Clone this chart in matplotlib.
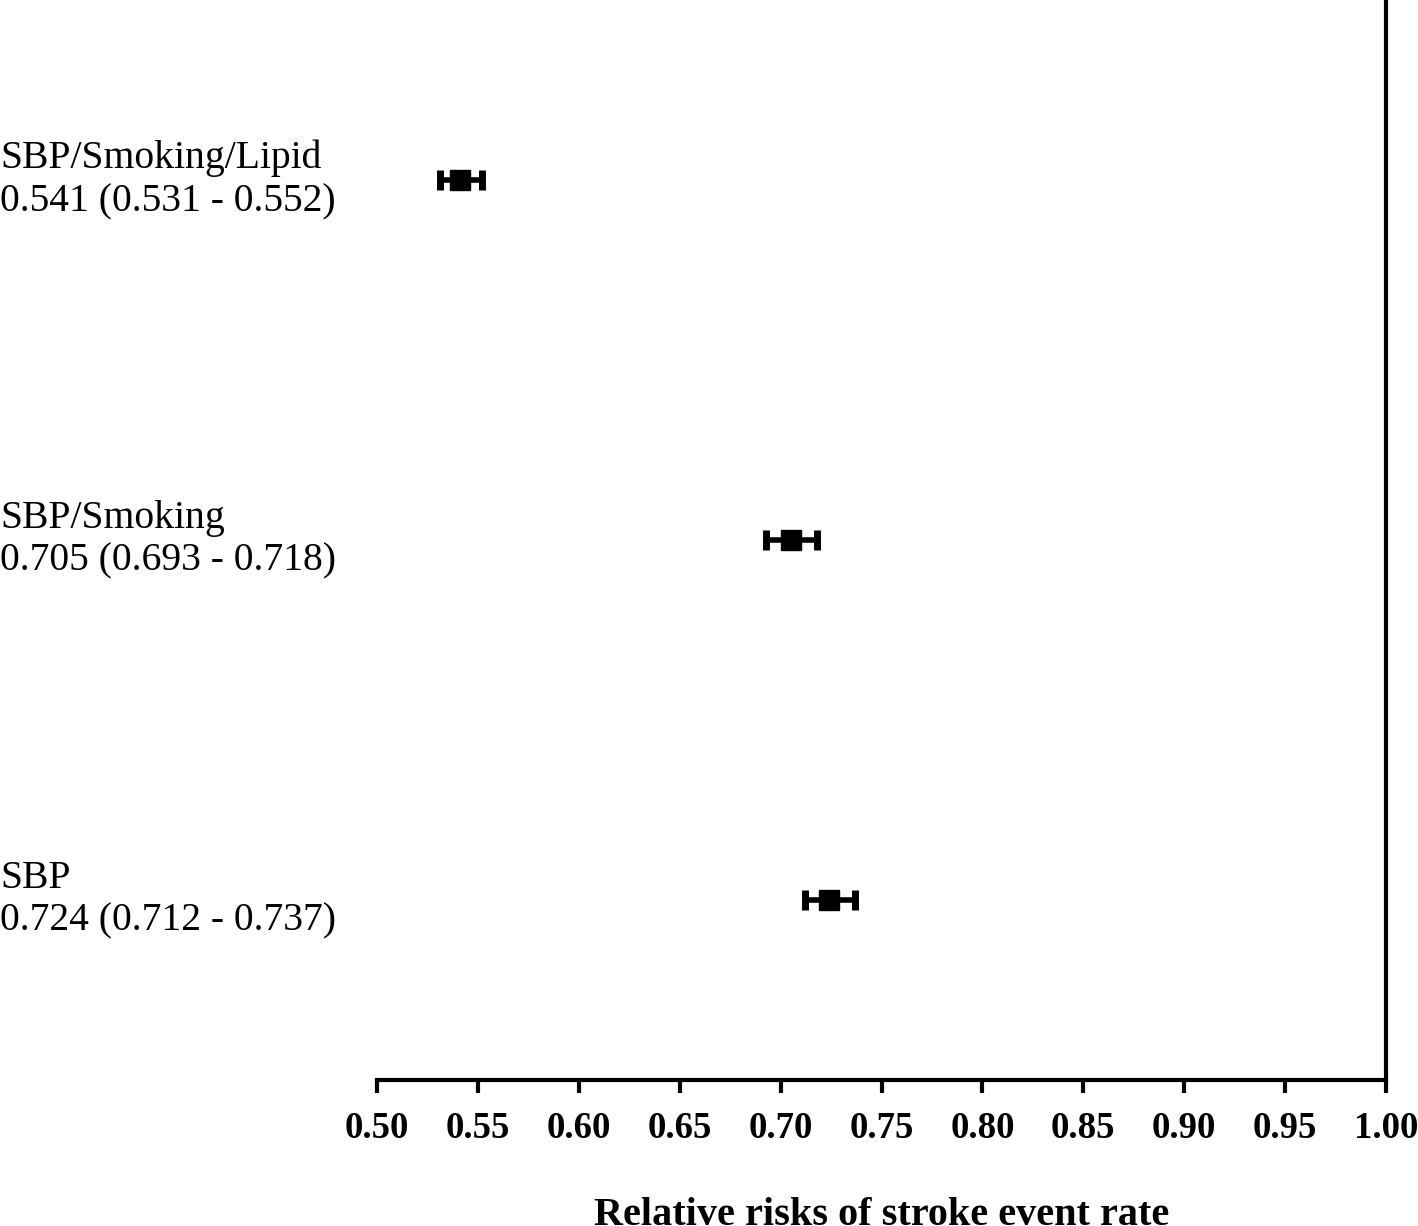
import matplotlib
matplotlib.use("Agg")
import matplotlib.pyplot as plt
from matplotlib.transforms import blended_transform_factory

labels = ["SBP", "SBP/Smoking", "SBP/Smoking/Lipid"]
rr = [0.724, 0.705, 0.541]
lo = [0.712, 0.693, 0.531]
hi = [0.737, 0.718, 0.552]
xticks = [0.50, 0.55, 0.60, 0.65, 0.70, 0.75, 0.80, 0.85, 0.90, 0.95, 1.00]

plt.rcParams['font.family'] = ['Liberation Serif', 'DejaVu Serif']

fig = plt.figure(figsize=(14.18, 12.26), dpi=100)
ax = fig.add_axes([377/1418, 1 - 1080/1226, (1386-377)/1418, 1080/1226])

ypos = list(range(1, len(labels) + 1))
xerr = [[r - l for r, l in zip(rr, lo)], [h - r for r, h in zip(rr, hi)]]
ax.errorbar(rr, ypos, xerr=xerr, fmt='s', color='black', markersize=15,
            elinewidth=4, capsize=7, capthick=5, ecolor='black')

ax.set_xlim(0.5, 1.0)
ax.set_ylim(0.5, 3.5)
ax.set_xticks(xticks)
ax.set_xticklabels([f"{t:.2f}" for t in xticks], fontsize=26.5, fontweight='bold')
ax.set_yticks([])
for s in ['left', 'top']:
    ax.spines[s].set_visible(False)
ax.spines['bottom'].set_linewidth(3)
ax.spines['right'].set_linewidth(3)
ax.spines['bottom'].set_capstyle('projecting')
ax.tick_params(axis='x', length=9, width=3, pad=13, direction='out')
ax.set_xlabel("Relative risks of stroke event rate", fontsize=29,
              fontweight='bold', labelpad=37)

tr = blended_transform_factory(fig.transFigure, ax.transData)
for y, lab, r, l, h in zip(ypos, labels, rr, lo, hi):
    ax.text(0.0, y, f"{lab}\n{r:.3f} ({l:.3f} - {h:.3f})", transform=tr,
            ha='left', va='center', fontsize=28.5, linespacing=1.2)

fig.savefig("out.png", dpi=100)
